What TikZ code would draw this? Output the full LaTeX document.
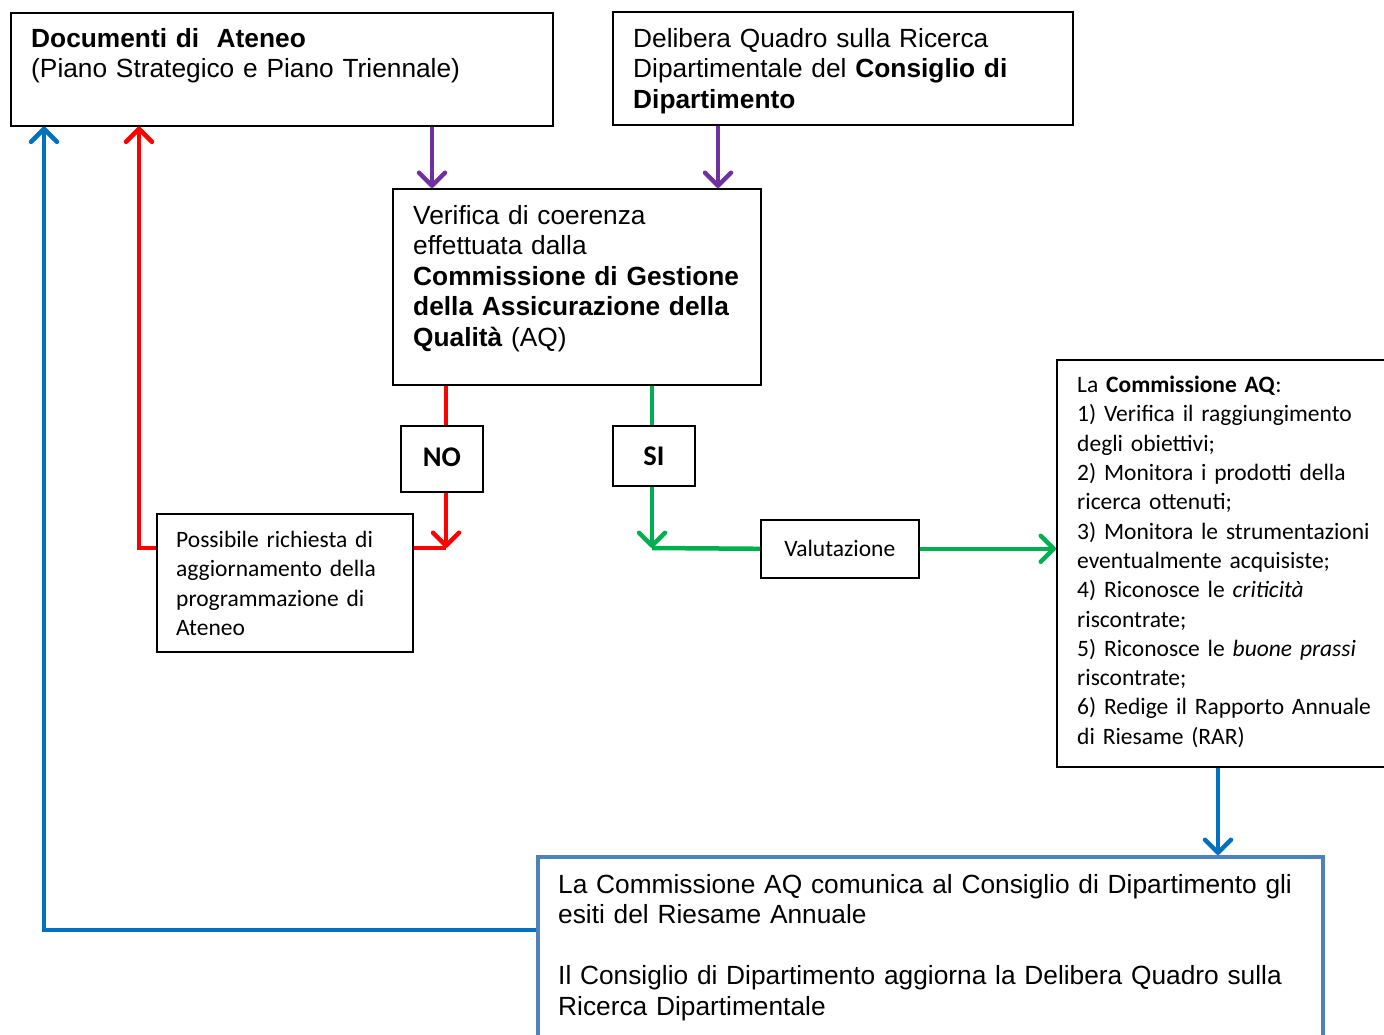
\documentclass[tikz,border=0pt]{standalone}
\usepackage{fontspec}
\setmainfont{Liberation Sans}
\newfontfamily\carlito{Carlito}
\usepackage{xcolor}
\usetikzlibrary{arrows.meta}

\definecolor{aqpurple}{HTML}{7030A0}
\definecolor{aqred}{HTML}{FF0000}
\definecolor{aqgreen}{HTML}{00B050}
\definecolor{aqblue}{HTML}{0070C0}
\definecolor{aqframe}{HTML}{4F81BD}

\begin{document}
\begin{tikzpicture}[x=1pt, y=-1pt,
  box/.style={draw=black, line width=1.6pt, fill=white, inner sep=0pt, anchor=north west},
  txt/.style={inner sep=0pt, anchor=north west, align=left, text width=800pt},
  arial/.style={font=\fontsize{26.3}{30.5}\selectfont},
  calibri/.style={font=\carlito\fontsize{23.5}{29.3}\selectfont},
  flow/.style={line width=4.5pt},
  arrow/.style={flow, -{Straight Barb[length=13pt, width=26pt, round]}}]
  \useasboundingbox (0,0) rectangle (1384,1035);

  % boxes
  \node[box, minimum width=542pt, minimum height=113pt] (doc) at (10,12) {};
  \node[box, minimum width=460pt, minimum height=113pt] (delib) at (612,11) {};
  \node[box, minimum width=368pt, minimum height=196pt] (ver) at (392,188) {};
  \node[box, minimum width=82pt, minimum height=66pt,
    font=\carlito\bfseries\fontsize{28.5}{30}\selectfont] (no) at (400,425) {\raisebox{3pt}{NO}};
  \node[box, minimum width=82pt, minimum height=60pt,
    font=\carlito\bfseries\fontsize{28.5}{30}\selectfont] (si) at (612,425) {SI};
  \node[box, minimum width=256pt, minimum height=138pt] (poss) at (156,513) {};
  \node[box, calibri, minimum width=158pt, minimum height=58pt] (valut) at (760,519) {Valutazione};
  \node[box, minimum width=332pt, minimum height=407pt] (comm) at (1056,359) {};
  \node[box, draw=aqframe, line width=4pt, minimum width=785pt, minimum height=220pt] (esiti) at (536,855) {};

  % texts
  \node[txt, arial] (doctxt) at ([shift={(21,16)}]doc.north west)
    {\textbf{Documenti di\ \ Ateneo}\\(Piano Strategico e Piano Triennale)};
  \node[txt, arial] (delibtxt) at ([shift={(21,17)}]delib.north west)
    {Delibera Quadro sulla Ricerca\\Dipartimentale del \textbf{Consiglio di}\\\textbf{Dipartimento}};
  \node[txt, arial] (vertxt) at ([shift={(21,17)}]ver.north west)
    {Verifica di coerenza\\effettuata dalla\\\textbf{Commissione di Gestione}\\\textbf{della Assicurazione della}\\\textbf{Qualità} (AQ)};
  \node[txt, calibri] (posstxt) at ([shift={(20,18)}]poss.north west)
    {Possibile richiesta di\\aggiornamento della\\programmazione di\\Ateneo};
  \node[txt, calibri] (commtxt) at ([shift={(21,17)}]comm.north west)
    {La \textbf{Commissione AQ}:\\1) Verifica il raggiungimento\\degli obiettivi;\\2) Monitora i prodotti della\\ricerca ottenuti;\\3) Monitora le strumentazioni\\eventualmente acquisiste;\\4) Riconosce le \textit{criticità}\\riscontrate;\\5) Riconosce le \textit{buone prassi}\\riscontrate;\\6) Redige il Rapporto Annuale\\di Riesame (RAR)};
  \node[txt, arial] (esititxt) at ([shift={(22,19)}]esiti.north west)
    {La Commissione AQ comunica al Consiglio di Dipartimento gli\\esiti del Riesame Annuale\\[30.5pt]Il Consiglio di Dipartimento aggiorna la Delibera Quadro sulla\\Ricerca Dipartimentale};

  % bends
  \coordinate (redturn) at (446,548);
  \coordinate (redup) at (139,548);
  \coordinate (greenturn) at (652,548);
  \coordinate (blueturn) at (44,930);

  % purple: into the check
  \draw[arrow, aqpurple] ([xshift=40pt]ver.north west |- doc.south) -- ([xshift=40pt]ver.north west);
  \draw[arrow, aqpurple] ([xshift=106pt]delib.south west) -- ([xshift=106pt]delib.south west |- ver.north);

  % red: NO branch
  \draw[flow, aqred] (redturn |- ver.south) -- (redturn |- no.north);
  \draw[arrow, aqred] (redturn |- no.south) -- (redturn);
  \draw[flow, aqred] (poss.east |- redturn) -- (redturn);
  \draw[arrow, aqred] (poss.west |- redturn) -- (redup) -- (redup |- doc.south);

  % green: SI branch
  \draw[flow, aqgreen] (greenturn |- ver.south) -- (greenturn |- si.north);
  \draw[arrow, aqgreen] (greenturn |- si.south) -- (greenturn);
  \draw[flow, aqgreen] (greenturn) -- (valut.west);
  \draw[arrow, aqgreen] (valut.east) -- (comm.west |- valut.east);

  % blue: back to the top
  \draw[arrow, aqblue] ([xshift=162pt]comm.south west) -- ([xshift=162pt]comm.south west |- esiti.north);
  \draw[arrow, aqblue] (esiti.west |- blueturn) -- (blueturn) -- (blueturn |- doc.south);
\end{tikzpicture}
\end{document}
